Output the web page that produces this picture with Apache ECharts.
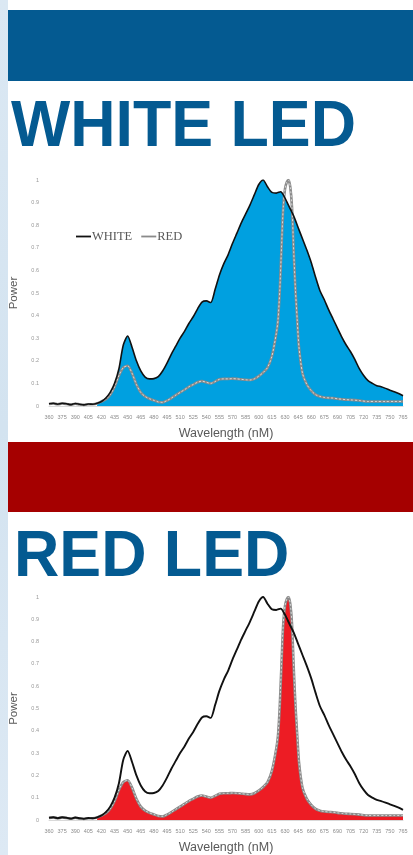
<!DOCTYPE html>
<html>
<head>
<meta charset="utf-8">
<script src="https://cdn.jsdelivr.net/npm/echarts@6/dist/echarts.min.js"></script>
<style>
  html, body { margin: 0; padding: 0; background: #ffffff; }
  #chart { width: 413px; height: 855px; }
</style>
</head>
<body>
<div id="chart"></div>
<script>
// Spectral power of a white LED and a red LED, normalised to 1.
const whiteNm = [360, 365, 370, 375, 380, 385, 390, 395, 400, 405, 410, 415, 420, 425, 430, 435, 440, 445, 450, 455,
  460, 465, 470, 475, 480, 485, 490, 495, 500, 505, 510, 515, 520, 525, 530, 535, 540, 545, 550, 555,
  560, 565, 570, 575, 580, 585, 590, 595, 600, 605, 610, 615, 620, 625, 630, 635, 640, 645, 650, 655,
  660, 665, 670, 675, 680, 685, 690, 695, 700, 705, 710, 715, 720, 725, 730, 735, 740, 745, 750, 755,
  760, 765];
const whitePower = [0.010, 0.012, 0.008, 0.012, 0.010, 0.006, 0.011, 0.008, 0.005, 0.009, 0.008, 0.012, 0.020, 0.035, 0.060, 0.100, 0.165, 0.270, 0.310, 0.260,
  0.200, 0.155, 0.128, 0.120, 0.121, 0.130, 0.155, 0.190, 0.230, 0.265, 0.300, 0.330, 0.365, 0.395, 0.430, 0.460, 0.465, 0.458, 0.515, 0.580,
  0.630, 0.670, 0.720, 0.765, 0.810, 0.850, 0.890, 0.935, 0.980, 1.000, 0.970, 0.945, 0.942, 0.948, 0.920, 0.880, 0.840, 0.790, 0.740, 0.690,
  0.635, 0.570, 0.510, 0.470, 0.425, 0.385, 0.345, 0.305, 0.270, 0.240, 0.205, 0.165, 0.135, 0.112, 0.100, 0.090, 0.085, 0.078, 0.070, 0.063,
  0.055, 0.045];

const redNm = [360, 365, 370, 375, 380, 385, 390, 395, 400, 405, 410, 415, 420, 425, 430, 435, 440, 445, 450, 455,
  460, 465, 470, 475, 480, 485, 490, 495, 500, 505, 510, 515, 520, 525, 530, 535, 540, 545, 550, 555,
  560, 565, 570, 575, 580, 585, 590, 595, 600, 605, 610, 615, 620, 622, 624, 626, 628, 630, 632, 634,
  636, 638, 640, 642, 644, 646, 650, 655, 660, 665, 670, 675, 680, 685, 690, 695, 700, 705, 715, 725,
  735, 745, 755, 765];
const redPower = [0.009, 0.011, 0.008, 0.011, 0.009, 0.006, 0.010, 0.007, 0.005, 0.008, 0.008, 0.011, 0.020, 0.030, 0.050, 0.085, 0.135, 0.170, 0.178, 0.145,
  0.095, 0.060, 0.042, 0.032, 0.025, 0.018, 0.016, 0.024, 0.035, 0.048, 0.060, 0.072, 0.085, 0.095, 0.105, 0.110, 0.105, 0.100, 0.108, 0.118,
  0.120, 0.120, 0.121, 0.120, 0.118, 0.116, 0.115, 0.120, 0.132, 0.148, 0.170, 0.220, 0.320, 0.380, 0.510, 0.700, 0.880, 0.960, 0.990, 1.000,
  0.970, 0.880, 0.680, 0.510, 0.380, 0.260, 0.145, 0.095, 0.068, 0.050, 0.042, 0.038, 0.036, 0.035, 0.032, 0.030, 0.028, 0.027, 0.024, 0.020,
  0.020, 0.020, 0.020, 0.020];

const xMin = 360, xMax = 765, xStep = 15;
const fillFrom = 415;   // shaded areas begin here

const BLUE_FILL = '#00a0e0';
const RED_FILL = '#ed1c24';
const NAVY = '#045a91';
const DARK_RED = '#a50000';

const pairs = (xs, ys) => xs.map((x, i) => [x, ys[i]]);
const filled = (xs, ys) => pairs(xs, ys).filter(p => p[0] >= fillFrom);

const whiteData = pairs(whiteNm, whitePower);
const redData = pairs(redNm, redPower);

const chart = echarts.init(document.getElementById('chart'), null, { renderer: 'canvas' });

function xAxisFor(gridIndex) {
  return {
    type: 'value', gridIndex, min: xMin, max: xMax, interval: xStep,
    name: 'Wavelength (nM)', nameLocation: 'middle', nameGap: 21,
    nameTextStyle: { fontFamily: 'Liberation Sans', fontSize: 12.5, color: '#595959' },
    axisLine: { show: true, lineStyle: { color: '#d9d9d9', width: 1 } },
    axisTick: { show: false },
    splitLine: { show: false },
    axisLabel: { fontFamily: 'Liberation Sans', fontSize: 5.5, color: '#8c8c8c', margin: 8, showMinLabel: true, showMaxLabel: true }
  };
}
function yAxisFor(gridIndex) {
  return {
    type: 'value', gridIndex, min: 0, max: 1, interval: 0.1,
    name: 'Power', nameLocation: 'middle', nameGap: 29, nameRotate: 90,
    nameTextStyle: { fontFamily: 'Liberation Sans', fontSize: 11.5, color: '#595959' },
    axisLine: { show: false }, axisTick: { show: false }, splitLine: { show: false },
    axisLabel: { fontFamily: 'Liberation Sans', fontSize: 5.5, color: '#999999', margin: 10,
      formatter: v => String(Math.round(v * 10) / 10) }
  };
}

const lineBase = { type: 'line', symbol: 'none', smooth: 0.25, animation: false };

const option = {
  backgroundColor: '#ffffff',
  animation: false,
  grid: [
    { left: 47, width: 356, top: 180, height: 226 },
    { left: 47, width: 356, top: 597, height: 226 }
  ],
  xAxis: [xAxisFor(0), xAxisFor(1)],
  yAxis: [yAxisFor(0), yAxisFor(1)],
  legend: {
    data: [{ name: 'WHITE', icon: 'rect' }, { name: 'RED', icon: 'rect' }],
    left: 71, top: 225, itemWidth: 15, itemHeight: 1.8, itemGap: 9,
    selectedMode: false,
    textStyle: { fontFamily: 'Liberation Serif', fontSize: 12.5, color: '#595959', padding: [0, 0, 0, -4] }
  },
  series: [
    // white LED panel
    Object.assign({}, lineBase, {
      name: 'WHITE area', xAxisIndex: 0, yAxisIndex: 0, data: filled(whiteNm, whitePower),
      lineStyle: { width: 0 }, areaStyle: { color: BLUE_FILL, opacity: 1 }, silent: true, z: 1
    }),
    Object.assign({}, lineBase, {
      name: 'RED', xAxisIndex: 0, yAxisIndex: 0, data: redData, color: '#8a8a8a',
      lineStyle: { color: '#8a8a8a', width: 2.6 }, z: 2
    }),
    Object.assign({}, lineBase, {
      name: 'RED highlight', xAxisIndex: 0, yAxisIndex: 0, data: redData,
      lineStyle: { color: 'rgba(255,255,255,0.85)', width: 0.8, type: [2, 2] }, silent: true, z: 3
    }),
    Object.assign({}, lineBase, {
      name: 'WHITE', xAxisIndex: 0, yAxisIndex: 0, data: whiteData, color: '#111111',
      lineStyle: { color: '#111111', width: 1.6 }, z: 4
    }),
    // red LED panel
    Object.assign({}, lineBase, {
      name: 'RED area', xAxisIndex: 1, yAxisIndex: 1, data: filled(redNm, redPower),
      lineStyle: { width: 0 }, areaStyle: { color: RED_FILL, opacity: 1 }, silent: true, z: 1
    }),
    Object.assign({}, lineBase, {
      name: 'RED', xAxisIndex: 1, yAxisIndex: 1, data: redData, color: '#8a8a8a',
      lineStyle: { color: '#8a8a8a', width: 2.6 }, z: 2
    }),
    Object.assign({}, lineBase, {
      name: 'RED highlight', xAxisIndex: 1, yAxisIndex: 1, data: redData,
      lineStyle: { color: 'rgba(255,255,255,0.85)', width: 0.8, type: [2, 2] }, silent: true, z: 3
    }),
    Object.assign({}, lineBase, {
      name: 'WHITE', xAxisIndex: 1, yAxisIndex: 1, data: whiteData, color: '#111111',
      lineStyle: { color: '#111111', width: 1.9 }, z: 4
    })
  ],
  graphic: [
    { type: 'rect', left: 0, top: 0, z: -10, silent: true,
      shape: { width: 8, height: 855 },
      style: { fill: new echarts.graphic.LinearGradient(0, 0, 1, 1, [
        { offset: 0, color: '#dbe8f3' }, { offset: 0.5, color: '#d3e3f0' }, { offset: 1, color: '#dde9f4' }]) } },
    { type: 'rect', x: 8, y: 10, z: -5, silent: true,
      shape: { width: 405, height: 71 }, style: { fill: NAVY } },
    { type: 'rect', x: 8, y: 442, z: -5, silent: true,
      shape: { width: 405, height: 70 }, style: { fill: DARK_RED } },
    { type: 'text', x: 11, y: 128, scaleX: 0.98, z: 5, silent: true,
      style: { text: 'WHITE LED', fill: NAVY, fontFamily: 'Liberation Sans', fontWeight: 'bold',
        fontSize: 64, verticalAlign: 'middle', align: 'left' } },
    { type: 'text', x: 14, y: 558, scaleX: 0.965, z: 5, silent: true,
      style: { text: 'RED LED', fill: NAVY, fontFamily: 'Liberation Sans', fontWeight: 'bold',
        fontSize: 65, verticalAlign: 'middle', align: 'left' } }
  ]
};

chart.setOption(option);
</script>
</body>
</html>
